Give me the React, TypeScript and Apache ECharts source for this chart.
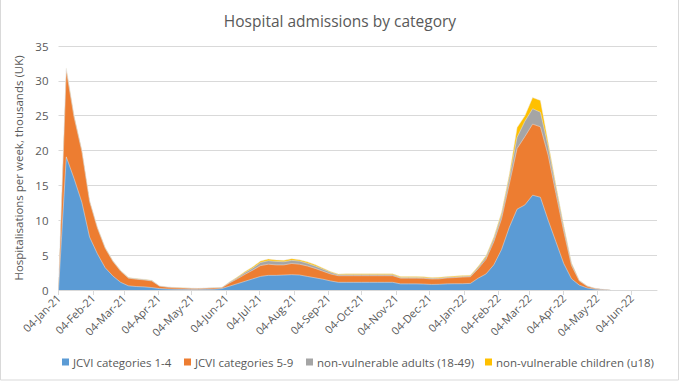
import React, { useEffect, useRef } from "react";
import * as echarts from "echarts";

// Weekly data, first week commencing 04-Jan-2021 (one value per week)
const START_UTC = Date.UTC(2021, 0, 4);
const AXIS_END_UTC = Date.UTC(2022, 5, 27);
const MONTHS = ["Jan", "Feb", "Mar", "Apr", "May", "Jun", "Jul", "Aug", "Sep", "Oct", "Nov", "Dec"];

const jcvi14 = [
  0, 19.1, 16.0, 12.6, 7.6, 5.2, 3.2, 2.0, 1.1, 0.6,
  0.5, 0.45, 0.35, 0.2, 0.15, 0.12, 0.1, 0.08, 0.08, 0.1,
  0.12, 0.2, 0.55, 0.9, 1.25, 1.6, 1.95, 2.1, 2.1, 2.15,
  2.2, 2.15, 1.95, 1.75, 1.55, 1.3, 1.1, 1.1, 1.1, 1.1,
  1.1, 1.1, 1.1, 1.1, 0.88, 0.88, 0.88, 0.85, 0.8, 0.82,
  0.88, 0.9, 0.9, 0.95, 1.7, 2.3, 3.6, 5.8, 9.0, 11.6,
  12.2, 13.6, 13.3, 10.0, 6.9, 3.8, 1.6, 0.7, 0.3, 0.12,
  0.05, 0,
];
const jcvi59 = [
  0, 12.4, 8.8, 7.3, 5.1, 3.7, 2.8, 2.1, 1.6, 1.1,
  1.05, 1.0, 0.95, 0.35, 0.25, 0.2, 0.18, 0.15, 0.12, 0.15,
  0.18, 0.12, 0.45, 0.7, 1.0, 1.25, 1.55, 1.6, 1.5, 1.45,
  1.6, 1.55, 1.5, 1.35, 1.15, 1.0, 0.95, 0.95, 0.95, 0.95,
  0.95, 0.95, 0.95, 0.95, 0.82, 0.82, 0.82, 0.82, 0.78, 0.78,
  0.85, 0.88, 0.95, 0.95, 1.35, 2.1, 3.3, 4.4, 6.2, 8.7,
  9.8, 10.2, 10.1, 9.3, 6.9, 4.6, 1.9, 0.6, 0.25, 0.11,
  0.05, 0,
];
const adults1849 = [
  0, 0.2, 0.15, 0.15, 0.1, 0.08, 0.07, 0.06, 0.05, 0.05,
  0.05, 0.05, 0.05, 0.02, 0.02, 0.02, 0.02, 0.02, 0.02, 0.02,
  0.02, 0.02, 0.1, 0.15, 0.25, 0.3, 0.45, 0.5, 0.5, 0.45,
  0.45, 0.45, 0.4, 0.35, 0.3, 0.25, 0.15, 0.15, 0.15, 0.15,
  0.15, 0.15, 0.15, 0.15, 0.1, 0.1, 0.1, 0.1, 0.1, 0.1,
  0.1, 0.1, 0.1, 0.1, 0.2, 0.3, 0.45, 0.6, 0.9, 1.6,
  2.2, 2.2, 2.1, 1.3, 0.9, 0.6, 0.3, 0.07, 0.03, 0.01,
  0, 0,
];
const childrenU18 = [
  0, 0.15, 0.1, 0.05, 0.05, 0.05, 0.05, 0.05, 0.05, 0.05,
  0.05, 0.05, 0.05, 0.02, 0.02, 0.02, 0.02, 0.02, 0.02, 0.02,
  0.02, 0.02, 0.05, 0.1, 0.15, 0.2, 0.2, 0.25, 0.2, 0.2,
  0.25, 0.2, 0.2, 0.2, 0.15, 0.12, 0.1, 0.12, 0.12, 0.12,
  0.12, 0.12, 0.12, 0.12, 0.12, 0.12, 0.12, 0.12, 0.12, 0.12,
  0.12, 0.12, 0.12, 0.12, 0.15, 0.2, 0.25, 0.35, 0.5, 1.4,
  0.8, 1.6, 1.7, 0.6, 0.4, 0.3, 0.1, 0.03, 0.02, 0.01,
  0, 0,
];

const seriesNames = [
  "JCVI categories 1-4",
  "JCVI categories 5-9",
  "non-vulnerable adults (18-49)",
  "non-vulnerable children (u18)",
];
const seriesColors = ["#5B9BD5", "#ED7D31", "#A5A5A5", "#FFC000"];
const seriesValues = [jcvi14, jcvi59, adults1849, childrenU18];

const DAY = 86400000;
// x positions in days since 04-Jan-21; tick marks on the 4th of each month, Jan-21 .. Jun-22
const monthTicks: number[] = [];
for (let m = 0; m < 18; m++) monthTicks.push((Date.UTC(2021, m, 4) - START_UTC) / DAY);
const axisMax = (AXIS_END_UTC - START_UTC) / DAY;

const fmtDate = (day: number) => {
  const d = new Date(START_UTC + Math.round(day) * DAY);
  const dd = String(d.getUTCDate()).padStart(2, "0");
  return `${dd}-${MONTHS[d.getUTCMonth()]}-${String(d.getUTCFullYear()).slice(2)}`;
};

// cumulative (stacked) tops for each layer
const stackedTops = seriesValues.map((_, i) =>
  seriesValues[0].map((__, k) => {
    let s = 0;
    for (let j = 0; j <= i; j++) s += seriesValues[j][k];
    return +s.toFixed(3);
  })
);

const FONT = "'Open Sans', sans-serif";
const TXT = "#595959";

export default function App() {
  const ref = useRef<HTMLDivElement>(null);
  useEffect(() => {
    document.body.style.margin = "0";
    const chart = echarts.init(ref.current!, undefined, { renderer: "svg" });
    const legendLefts = [57, 179, 301, 480];
    chart.setOption({
      animation: false,
      backgroundColor: "#fff",
      textStyle: { fontFamily: FONT },
      title: {
        text: "Hospital admissions by category",
        left: "center",
        top: 8,
        textStyle: { fontFamily: FONT, fontSize: 15.5, fontWeight: "normal", color: TXT },
      },
      legend: seriesNames.map((n, i) => ({
        data: [n],
        left: legendLefts[i],
        top: 351,
        icon: "rect",
        itemWidth: 7,
        itemHeight: 7,
        itemGap: 4,
        textStyle: { fontFamily: FONT, fontSize: 11.5, color: TXT, padding: [0, 0, 0, -1] },
        selectedMode: false,
      })),
      grid: { left: 58.5, right: 23, top: 46, bottom: 94, containLabel: false },
      xAxis: {
        type: "value",
        min: 0,
        max: axisMax,
        splitLine: { show: false },
        axisLine: { show: true, lineStyle: { color: "#D9D9D9" } },
        axisTick: { show: true, customValues: monthTicks, length: 5, lineStyle: { color: "#D9D9D9" } },
        axisLabel: {
          customValues: monthTicks,
          formatter: (v: number) => fmtDate(v),
          rotate: 45,
          margin: 6,
          fontFamily: FONT,
          fontSize: 11,
          color: TXT,
        },
      },
      yAxis: {
        type: "value",
        min: 0,
        max: 35,
        interval: 5,
        name: "Hospitalisations per week, thousands (UK)",
        nameLocation: "middle",
        nameGap: 26,
        nameTextStyle: { fontFamily: FONT, fontSize: 11.5, color: TXT },
        axisLine: { show: false },
        axisTick: { show: false },
        axisLabel: { fontFamily: FONT, fontSize: 11.5, color: TXT, margin: 10 },
        splitLine: { lineStyle: { color: "#D9D9D9" } },
      },
      series: seriesNames.map((n, i) => ({
        name: n,
        type: "line",
        z: 10 - i,
        symbol: "none",
        color: seriesColors[i],
        lineStyle: { width: 0.6, color: "rgba(235,235,235,0.8)" },
        areaStyle: { color: seriesColors[i], opacity: 1 },
        data: stackedTops[i].map((v, k) => [k * 7, v]),
      })),
      graphic: [
        {
          type: "rect",
          shape: { x: 0.5, y: -2, width: 678, height: 382 },
          style: { fill: "none", stroke: "#D9D9D9", lineWidth: 1 },
          silent: true,
        },
      ],
    });
    return () => chart.dispose();
  }, []);
  return (
    <div
      ref={ref}
      style={{ position: "fixed", left: 0, top: 0, width: 680, height: 384 }}
    />
  );
}
